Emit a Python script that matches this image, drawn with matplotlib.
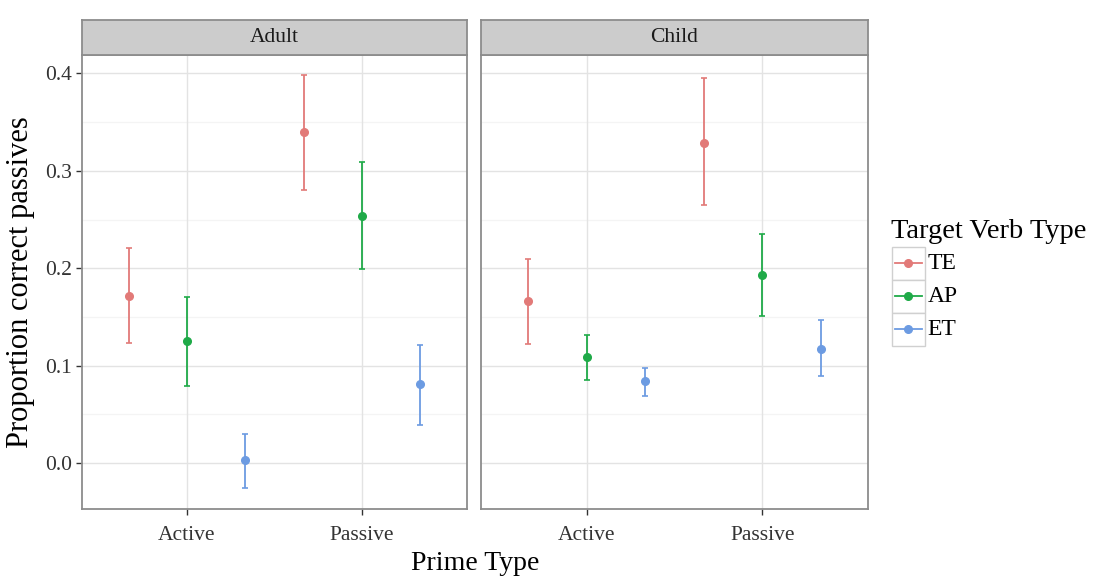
import matplotlib
matplotlib.use('Agg')
import matplotlib.pyplot as plt
from matplotlib.patches import Rectangle

# --- data ---
panels = ['Adult', 'Child']
prime_types = ['Active', 'Passive']
verb_types = ['TE', 'AP', 'ET']
colors = ['#E27A78', '#1FAA48', '#6C9BE2']

# mean / lower / upper, per panel -> per verb type -> [Active, Passive]
means = {
    'Adult': {'TE': [0.172, 0.340], 'AP': [0.125, 0.254], 'ET': [0.003, 0.081]},
    'Child': {'TE': [0.166, 0.329], 'AP': [0.109, 0.193], 'ET': [0.084, 0.117]},
}
lower = {
    'Adult': {'TE': [0.123, 0.280], 'AP': [0.079, 0.199], 'ET': [-0.025, 0.039]},
    'Child': {'TE': [0.122, 0.265], 'AP': [0.085, 0.151], 'ET': [0.069, 0.089]},
}
upper = {
    'Adult': {'TE': [0.221, 0.398], 'AP': [0.170, 0.309], 'ET': [0.030, 0.121]},
    'Child': {'TE': [0.210, 0.395], 'AP': [0.132, 0.235], 'ET': [0.098, 0.147]},
}

plt.rcParams['font.family'] = ['Liberation Serif', 'DejaVu Serif']

W, H = 1093, 579
fig = plt.figure(figsize=(W / 100, H / 100), dpi=100)


def px_axes(x0, y0, x1, y1):
    # pixel box (top-left origin) -> figure axes
    return fig.add_axes([x0 / W, 1 - y1 / H, (x1 - x0) / W, (y1 - y0) / H])


dodge = [-1 / 3, 0, 1 / 3]
boxes = [(82, 467), (481, 868)]
top, bottom, strip_top = 55, 509, 20

for i, (panel, (x0, x1)) in enumerate(zip(panels, boxes)):
    ax = px_axes(x0, top, x1, bottom)
    ax.set_xlim(0.4, 2.6)
    ax.set_ylim(-0.047, 0.4188)

    # grid (theme_bw-like)
    for y in [0.05, 0.15, 0.25, 0.35]:
        ax.axhline(y, color='#F4F4F4', lw=0.9, zorder=0)
    for y in [0.0, 0.1, 0.2, 0.3, 0.4]:
        ax.axhline(y, color='#E3E3E3', lw=1.0, zorder=0)
    for x in [1, 2]:
        ax.axvline(x, color='#E3E3E3', lw=1.0, zorder=0)

    for j, vt in enumerate(verb_types):
        xs = [k + 1 + dodge[j] for k in range(len(prime_types))]
        m = means[panel][vt]
        lo = [a - b for a, b in zip(m, lower[panel][vt])]
        hi = [b - a for a, b in zip(m, upper[panel][vt])]
        ax.errorbar(xs, m, yerr=[lo, hi], fmt='o', color=colors[j],
                    ms=5.5, elinewidth=1.3, capsize=2.4, capthick=1.2, zorder=3)

    ax.set_xticks([1, 2])
    ax.set_xticklabels(prime_types, fontsize=15.5, color='#333333')
    ax.set_yticks([0.0, 0.1, 0.2, 0.3, 0.4])
    ax.tick_params(axis='both', direction='out', length=4, width=1, color='#333333', pad=3)
    ax.tick_params(axis='x', pad=8)
    if i == 0:
        ax.set_yticklabels(['0.0', '0.1', '0.2', '0.3', '0.4'], fontsize=15.5, color='#333333')
    else:
        ax.tick_params(axis='y', length=0)
        ax.set_yticklabels([])
    for s in ax.spines.values():
        s.set_color('#8C8C8C')
        s.set_linewidth(1.3)

    # facet strip
    sax = px_axes(x0, strip_top, x1, top)
    sax.set_facecolor('#CCCCCC')
    sax.set_xticks([])
    sax.set_yticks([])
    for s in sax.spines.values():
        s.set_color('#8C8C8C')
        s.set_linewidth(1.3)
    sax.text(0.5, 0.5, panel, ha='center', va='center', fontsize=15.5,
             color='#1A1A1A', transform=sax.transAxes)

fig.text((82 + 868) / 2 / W, 1 - 563 / H, 'Prime Type', ha='center', va='center', fontsize=20)
fig.text(21 / W, 1 - 282 / H, 'Proportion correct passives', ha='center', va='center',
         fontsize=22, rotation=90)

# legend drawn by hand (ggplot-style key boxes)
lax = px_axes(885, 210, 1093, 350)
lax.set_xlim(885, 1093)
lax.set_ylim(350, 210)
lax.axis('off')
lax.text(891, 232, 'Target Verb Type', fontsize=20.5, va='center', ha='left')
key_top, key_h, key_x0, key_w = 246.7, 33, 892, 32.5
for j, vt in enumerate(verb_types):
    y0 = key_top + j * key_h
    lax.add_patch(Rectangle((key_x0, y0), key_w, key_h, facecolor='white',
                            edgecolor='#D0D0D0', lw=1.0))
    yc = y0 + key_h / 2
    lax.plot([key_x0 + 3, key_x0 + key_w - 3], [yc, yc], color=colors[j], lw=1.3)
    lax.plot([key_x0 + key_w / 2], [yc], 'o', color=colors[j], ms=5.5)
    lax.text(key_x0 + key_w + 3, yc, vt, fontsize=17, va='center', ha='left')

fig.savefig('out.png', dpi=100)
